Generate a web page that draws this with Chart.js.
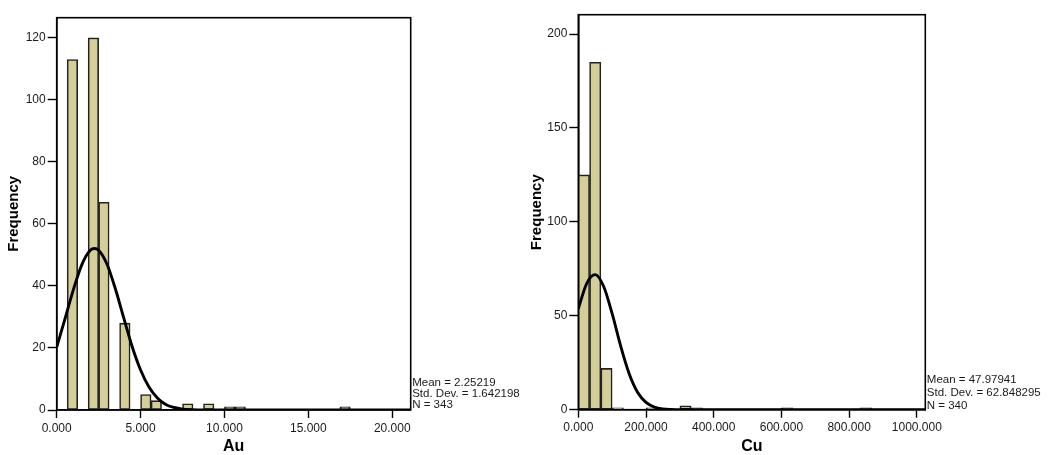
<!DOCTYPE html>
<html>
<head>
<meta charset="utf-8">
<script src="https://cdn.jsdelivr.net/npm/chart.js@4/dist/chart.umd.min.js"></script>
<style>
    html, body { margin: 0; padding: 0; background: #fff; }
    #au_wrap { position: absolute; left: 0; top: 0; width: 520px; height: 455px; }
    #cu_wrap { position: absolute; left: 520px; top: 0; width: 536px; height: 455px; }
</style>
</head>
<body>
<div id="au_wrap"><canvas id="au_hist"></canvas></div>
<div id="cu_wrap"><canvas id="cu_hist"></canvas></div>
<script>
// ----- Au -----
const auBinWidth = 0.625;
const auBinStarts = [0.625, 1.875, 2.5, 3.75, 5.0, 5.625, 7.5, 8.75, 10.0, 10.625, 16.875];
const auCounts = [113, 120, 67, 28, 5, 3, 2, 2, 1, 1, 1];
// normal curve
const auCurveX = [0, 0.5, 1, 1.5, 2, 2.25, 2.5, 3, 3.5, 4, 4.5, 5, 5.5, 6, 6.5, 7, 7.5, 8, 9, 10, 21.1];
const auCurveY = [20.3, 29.5, 38.9, 46.9, 51.5, 52.1, 51.5, 47.0, 39.0, 29.6, 20.4, 12.9, 7.4, 3.9, 1.8, 0.8, 0.3, 0.1, 0, 0, 0];
const auXTicks = [0, 5, 10, 15, 20];
const auYTicks = [0, 20, 40, 60, 80, 100, 120];
const auStats = ["Mean = 2.25219", "Std. Dev. = 1.642198", "N = 343"];

// ----- Cu -----
const cuBinWidth = 1000 / 30;
const cuBinStarts = [0, 33.333, 66.667, 100, 200, 300, 333.333, 600, 833.333];
const cuCounts = [125, 185, 22, 1, 1, 2, 1, 1, 1];
const cuCurveX = [0, 25, 50, 75, 100, 125, 150, 175, 200, 225, 250, 275, 300, 350, 1025];
const cuCurveY = [53.8, 67.3, 71.9, 65.6, 51.1, 34.0, 19.3, 9.3, 3.9, 1.4, 0.4, 0.1, 0, 0, 0];
const cuXTicks = [0, 200, 400, 600, 800, 1000];
const cuYTicks = [0, 50, 100, 150, 200];
const cuStats = ["Mean = 47.97941", "Std. Dev. = 62.848295", "N = 340"];

const FONT = 'Arial, "Liberation Sans", sans-serif';
Chart.defaults.font.family = FONT;
Chart.defaults.color = "#1a1a1a";

// frame around the plot + stats block on the right
const frameAndStats = {
    id: "frameAndStats",
    afterDatasetsDraw(chart, args, opts) {
        const ctx = chart.ctx, a = chart.chartArea;
        ctx.save();
        ctx.strokeStyle = "#000";
        ctx.lineWidth = 1.6;
        ctx.strokeRect(a.left, a.top, a.right - a.left, a.bottom - a.top);
        ctx.fillStyle = "#1a1a1a";
        ctx.font = "11.5px " + FONT;
        ctx.textBaseline = "middle";
        ctx.textAlign = "left";
        opts.lines.forEach((t, i) => ctx.fillText(t, a.right + 1.5, a.bottom + opts.y0 + i * opts.step));
        ctx.restore();
    }
};

function createHist(id, s) {
    const bars = s.starts.map((b, i) => ({ x: b + s.width / 2, y: s.counts[i] }));
    const curve = s.curveX.map((x, i) => ({ x: x, y: s.curveY[i] }));
    const config = {
        type: "bar",
        data: {
            datasets: [{
                type: "line",
                data: curve,
                borderColor: "#000",
                borderWidth: 2.9,
                pointRadius: 0,
                cubicInterpolationMode: "monotone",
                fill: false,
                order: 0,
            }, {
                type: "bar",
                data: bars,
                backgroundColor: "rgb(212,207,152)",
                borderColor: "#222",
                borderWidth: 1.6,
                borderSkipped: false,
                barPercentage: 1,
                categoryPercentage: 1,
                order: 1,
            }]
        },
        options: {
            responsive: true,
            maintainAspectRatio: false,
            animation: false,
            layout: { padding: s.padding },
            plugins: {
                legend: { display: false },
                tooltip: { enabled: false },
                frameAndStats: { lines: s.stats, y0: s.statsY0, step: s.statsStep },
            },
            scales: {
                x: {
                    type: "linear",
                    min: 0,
                    max: s.xMax,
                    offset: false,
                    afterBuildTicks: (sc) => { sc.ticks = s.xTicks.map(v => ({ value: v })); },
                    afterFit: (sc) => { sc.height = s.xHeight; },
                    grid: { display: true, offset: false, drawOnChartArea: false, drawTicks: true, tickLength: 8, tickColor: "#000", tickWidth: 1.4 },
                    border: { display: true, color: "#000", width: 1.6 },
                    ticks: { font: { size: 12 }, padding: 3, maxRotation: 0, callback: (v) => Number(v).toFixed(3) },
                    title: { display: true, text: s.xTitle, font: { size: 16, weight: "bold", lineHeight: 1 }, padding: { top: 0, bottom: 0 }, color: "#000" },
                },
                y: {
                    min: 0,
                    max: s.yMax,
                    afterBuildTicks: (sc) => { sc.ticks = s.yTicks.map(v => ({ value: v })); },
                    afterFit: (sc) => { sc.width = s.yWidth; },
                    grid: { display: true, drawOnChartArea: false, drawTicks: true, tickLength: 9, tickColor: "#000", tickWidth: 1.4 },
                    border: { display: true, color: "#000", width: 1.6 },
                    ticks: { font: { size: 12 }, padding: 2 },
                    title: { display: true, text: "Frequency", font: { size: 15, weight: "bold", lineHeight: 1 }, padding: { top: s.yTitlePad, bottom: 0 }, color: "#000" },
                },
            },
        },
        plugins: [frameAndStats],
    };
    return new Chart(document.getElementById(id), config);
}

window.au_chart = createHist("au_hist", {
    width: auBinWidth, starts: auBinStarts, counts: auCounts,
    curveX: auCurveX, curveY: auCurveY,
    xTicks: auXTicks, yTicks: auYTicks, xMax: 21.1, yMax: 126.5,
    xTitle: "Au", stats: auStats, statsY0: -27, statsStep: 10.8,
    padding: { left: 0, right: 109.3, top: 17.7, bottom: 0 },
    yWidth: 56.7, xHeight: 45, yTitlePad: 6,
});

window.cu_chart = createHist("cu_hist", {
    width: cuBinWidth, starts: cuBinStarts, counts: cuCounts,
    curveX: cuCurveX, curveY: cuCurveY,
    xTicks: cuXTicks, yTicks: cuYTicks, xMax: 1025, yMax: 210.3,
    xTitle: "Cu", stats: cuStats, statsY0: -30, statsStep: 13.3,
    padding: { left: 0, right: 130.7, top: 14.7, bottom: 0 },
    yWidth: 58.3, xHeight: 45.3, yTitlePad: 9,
});
</script>
</body>
</html>
